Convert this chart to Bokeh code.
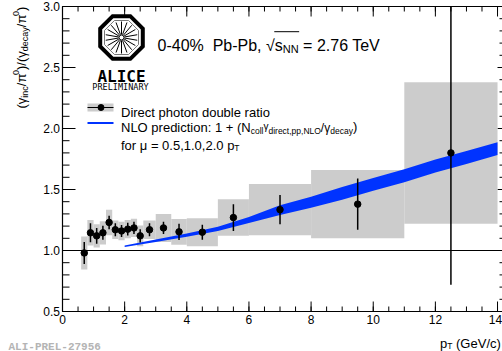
import numpy as np
from bokeh.plotting import figure
from bokeh.models import Range1d, Label
from bokeh.embed import file_html
from bokeh.resources import INLINE

# ---------------- data ----------------
pt       = [0.7, 0.9, 1.1, 1.3, 1.5, 1.7, 1.9, 2.1, 2.3, 2.5, 2.8, 3.25, 3.75, 4.5, 5.5, 7.0, 9.5, 12.5]
ratio    = [0.98, 1.145, 1.12, 1.145, 1.23, 1.17, 1.16, 1.175, 1.185, 1.12, 1.17, 1.185, 1.153, 1.15, 1.27, 1.335, 1.38, 1.80]
stat_dn  = [0.09, 0.078, 0.065, 0.057, 0.055, 0.053, 0.05, 0.052, 0.05, 0.055, 0.053, 0.05, 0.066, 0.061, 0.11, 0.12, 0.21, 1.08]
stat_up  = [0.09, 0.078, 0.065, 0.057, 0.055, 0.053, 0.05, 0.052, 0.05, 0.055, 0.053, 0.05, 0.066, 0.061, 0.11, 0.12, 0.21, 1.20]
sys_err  = [0.135, 0.105, 0.095, 0.095, 0.105, 0.075, 0.075, 0.075, 0.075, 0.085, 0.075, 0.115, 0.105, 0.115, 0.15, 0.21, 0.28, 0.58]
bin_lo   = [0.6, 0.8, 1.0, 1.2, 1.4, 1.6, 1.8, 2.0, 2.2, 2.4, 2.6, 3.0, 3.5, 4.0, 5.0, 6.0, 8.0, 11.0]
bin_hi   = [0.8, 1.0, 1.2, 1.4, 1.6, 1.8, 2.0, 2.2, 2.4, 2.6, 3.0, 3.5, 4.0, 5.0, 6.0, 8.0, 11.0, 14.0]

nlo_pt   = [2, 3, 4, 5, 6, 7, 8, 9, 10, 11, 12, 13, 14]
nlo_lo   = [1.028, 1.07, 1.112, 1.16, 1.225, 1.29, 1.35, 1.415, 1.49, 1.56, 1.64, 1.71, 1.782]
nlo_hi   = [1.042, 1.09, 1.14, 1.195, 1.275, 1.37, 1.44, 1.52, 1.595, 1.665, 1.745, 1.815, 1.888]

x_ticks = [0, 2, 4, 6, 8, 10, 12, 14]
y_ticks = [0.5, 1.0, 1.5, 2.0, 2.5, 3.0]
x_tick_labels = ["0", "2", "4", "6", "8", "10", "12", "14"]
y_tick_labels = ["0.5", "1.0", "1.5", "2.0", "2.5", "3.0"]

# ---------------- layout ----------------
W, H = 502, 351
FL = 62          # axes box left (pixels)
FTOP = 6         # axes box top
FBOT = 311       # axes box bottom
XMIN, XMAX = 0.0, 14.16
YMIN, YMAX = 0.5, 3.0
PXU = (W - FL) / (XMAX - XMIN)
PYU = (FBOT - FTOP) / (YMAX - YMIN)

def X(px):   # picture pixel -> data x
    return XMIN + (px - FL) / PXU
def Y(py):   # picture pixel -> data y
    return YMIN + (FBOT - py) / PYU

FONT = "Liberation Sans"

# the plotting area covers the whole canvas so that every text is inside it
p = figure(width=W, height=H, x_range=Range1d(X(0), X(W)), y_range=Range1d(Y(H), Y(0)),
           output_backend="svg", toolbar_location=None, title=None, min_border=0,
           x_axis_location=None, y_axis_location=None)
p.grid.visible = False
p.outline_line_color = None
p.background_fill_color = "white"
p.border_fill_color = "white"

# ---------------- axes (ROOT style: ticks inside) ----------------
x_minor = list(np.arange(0, 14.01, 0.5))
y_minor = list(np.round(np.arange(0.5, 3.001, 0.1), 2))

def vticks(xs, y, length_px):
    p.segment(x0=xs, y0=[y] * len(xs), x1=xs, y1=[y + length_px / PYU] * len(xs),
              line_color="black", line_width=1)
def hticks(ys, x, length_px):
    p.segment(x0=[x] * len(ys), y0=ys, x1=[x + length_px / PXU] * len(ys), y1=ys,
              line_color="black", line_width=1)

p.segment(x0=[XMIN], y0=[YMIN], x1=[XMAX], y1=[YMIN], line_color="black", line_width=1.2)   # bottom
p.segment(x0=[XMIN], y0=[YMAX], x1=[XMAX], y1=[YMAX], line_color="black", line_width=1)     # top
p.segment(x0=[XMIN], y0=[YMIN], x1=[XMIN], y1=[YMAX], line_color="black", line_width=1.2)   # left
vticks(x_ticks, YMIN, 10); vticks(x_minor, YMIN, 5)
vticks(x_ticks, YMAX, -10); vticks(x_minor, YMAX, -5)
hticks(y_ticks, XMIN, 13); hticks(y_minor, XMIN, 7)
hticks(y_ticks, XMAX, -5); hticks(y_minor, XMAX, -3)

for i, (t, s) in enumerate(zip(x_ticks, x_tick_labels)):
    p.add_layout(Label(x=t, y=Y(314), text=s, text_font=FONT, text_font_size="12px",
                       text_color="black", text_align="center", text_baseline="top",
                       x_offset=-2 if i == len(x_ticks) - 1 else 0))
for t, s in zip(y_ticks, y_tick_labels):
    p.add_layout(Label(x=X(59.5), y=t, text=s, text_font=FONT, text_font_size="12px",
                       text_color="black", text_align="right", text_baseline="middle"))

# ---------------- data marks ----------------
r = np.array(ratio)
p.quad(left=bin_lo, right=bin_hi, bottom=r - np.array(sys_err), top=r + np.array(sys_err),
       fill_color="#cccccc", line_color=None)
p.varea(x=nlo_pt, y1=nlo_lo, y2=nlo_hi, fill_color="#0033ff")
p.segment(x0=pt, y0=r - np.array(stat_dn), x1=pt, y1=r + np.array(stat_up),
          line_color="black", line_width=1.5)
p.scatter(pt, ratio, size=6.5, color="black")
p.segment(x0=[XMIN], y0=[1.0], x1=[XMAX], y1=[1.0], line_color="black", line_width=1)

# ---------------- text helpers ----------------
AW = {' ': 278, '(': 333, ')': 333, '/': 278, ',': 278, '.': 278, ':': 278, '=': 584, '+': 584,
      '%': 889, '-': 333, 'A': 667, 'C': 722, 'D': 722, 'E': 667, 'G': 778, 'I': 278, 'L': 556,
      'N': 722, 'O': 778, 'P': 667, 'R': 722, 'T': 611, 'V': 667, 'Y': 667,
      'a': 556, 'b': 556, 'c': 500, 'd': 556, 'e': 556, 'f': 278, 'g': 556, 'h': 556, 'i': 222,
      'k': 500, 'l': 222, 'm': 833, 'n': 556, 'o': 556, 'p': 556, 'r': 333, 's': 500, 't': 278,
      'u': 556, 'v': 500, 'w': 722, 'x': 500, 'y': 500,
      'γ': 500, 'π': 580, 'μ': 576, '√': 549}

def tw(s, size):
    return sum(AW.get(c, 556) for c in s) * size / 1000.0

def run(pieces, x0, yb, font=FONT):
    """pieces: (text, size_px, dy_px); horizontal run starting at picture x0, baseline yb"""
    x = x0
    pos = []
    for text, size, dy in pieces:
        lead = len(text) - len(text.lstrip())
        xs = x + tw(text[:lead], size)
        t = text.strip()
        if t:
            p.add_layout(Label(x=X(xs), y=Y(yb + dy), text=t, text_font=font,
                               text_font_size=f"{size}px", text_baseline="alphabetic",
                               text_align="left", text_color="black"))
        pos.append((xs, x + tw(text, size)))
        x += tw(text, size)
    return pos

def run_v(pieces, xb, y0, font=FONT):
    """rotated run (reading upward) starting at picture y0, baseline at picture x xb"""
    y = y0
    for text, size, dx in pieces:
        p.add_layout(Label(x=X(xb + dx), y=Y(y), text=text, text_font=font,
                           text_font_size=f"{size}px", text_baseline="alphabetic",
                           text_align="left", text_color="black", angle=np.pi / 2))
        y -= tw(text, size)

# ---------------- title ----------------
tpos = run([("0-40%", 16, 0), ("  Pb-Pb,", 16, 0), (" √", 16, 0), ("s", 16, 0), ("NN", 11, 3.5),
            (" = 2.76 TeV", 16, 0)], 157, 44.5)
p.segment(x0=[X(tpos[2][1] - 0.5)], y0=[Y(31.2)], x1=[X(tpos[4][1] + 0.5)], y1=[Y(31.2)],
          line_color="black", line_width=1)

# ---------------- legend ----------------
p.quad(left=[X(87)], right=[X(113)], bottom=[Y(111)], top=[Y(103)], fill_color="#cccccc", line_color=None)
p.segment(x0=[X(87)], y0=[Y(107)], x1=[X(113)], y1=[Y(107)], line_color="black", line_width=1.2)
p.scatter([X(100.5)], [Y(107)], size=6, color="black")
p.segment(x0=[X(87)], y0=[Y(122.5)], x1=[X(113)], y1=[Y(122.5)], line_color="#0033ff", line_width=2)

run([("Direct photon double ratio", 13, 0)], 120.5, 111.5)
run([("NLO prediction: 1 + (N", 13, 0), ("coll", 8.5, 3), ("γ", 10, -1), ("direct,pp,NLO", 8.5, 3),
     ("/γ", 12, 0), ("decay", 8.5, 3), (")", 13, -1)], 120.5, 127)
run([("for μ = 0.5,1.0,2.0 p", 13, 0), ("T", 8.5, 3)], 120.5, 144.5)

# ---------------- axis titles ----------------
run_v([("(γ", 13, 0), ("inc", 9, 3.5), ("/π", 13, 0), ("0", 9, -5.5), (")/(γ", 13, 0),
       ("decay", 9, 3.5), ("/π", 13, 0), ("0", 9, -5.5), (")", 13, 0)], 20.5, 108)
run([("p", 13, 0), ("T", 8.5, 3), (" (GeV/c)", 13, 0)], 439.5, 342.5)

p.add_layout(Label(x=X(8), y=Y(346), text="ALI-PREL-27956",
                   text_font="Liberation Mono", text_font_style="bold", text_font_size="11px",
                   text_color="#b4b4b4", text_baseline="alphabetic", text_align="left"))

# ---------------- ALICE logo ----------------
cx, cy = 121, 37
ang = np.deg2rad(22.5 + 45 * np.arange(8))
def octo(apo):
    rc = apo / np.cos(np.deg2rad(22.5))
    return [X(cx + rc * np.cos(a)) for a in ang], [Y(cy - rc * np.sin(a)) for a in ang]
ox, oy = octo(21.3)
p.patch(ox, oy, fill_color="white", line_color="black", line_width=4, line_join="miter")
ix, iy = octo(17.0)
p.patch(ix, iy, fill_color=None, line_color="#555555", line_width=0.8)
sa = np.deg2rad(np.arange(0, 360, 20) + 10)
p.segment(x0=[X(cx + 3 * np.cos(a)) for a in sa], y0=[Y(cy - 3 * np.sin(a)) for a in sa],
          x1=[X(cx + 16 * np.cos(a)) for a in sa], y1=[Y(cy - 16 * np.sin(a)) for a in sa],
          line_color="black", line_width=1)
p.scatter([X(cx)], [Y(cy)], size=5, fill_color="white", line_color="black", line_width=1)
p.add_layout(Label(x=X(cx), y=Y(75.5), text="ALICE", text_font="DejaVu Sans Mono",
                   text_font_style="bold", text_font_size="16px", text_color="black",
                   text_align="center", text_baseline="alphabetic"))
p.add_layout(Label(x=X(cx - 1), y=Y(86.5), text="PRELIMINARY", text_font="DejaVu Sans Mono",
                   text_font_size="8.5px", text_color="black",
                   text_align="center", text_baseline="alphabetic"))

open("out.html", "w").write(file_html(p, INLINE))
